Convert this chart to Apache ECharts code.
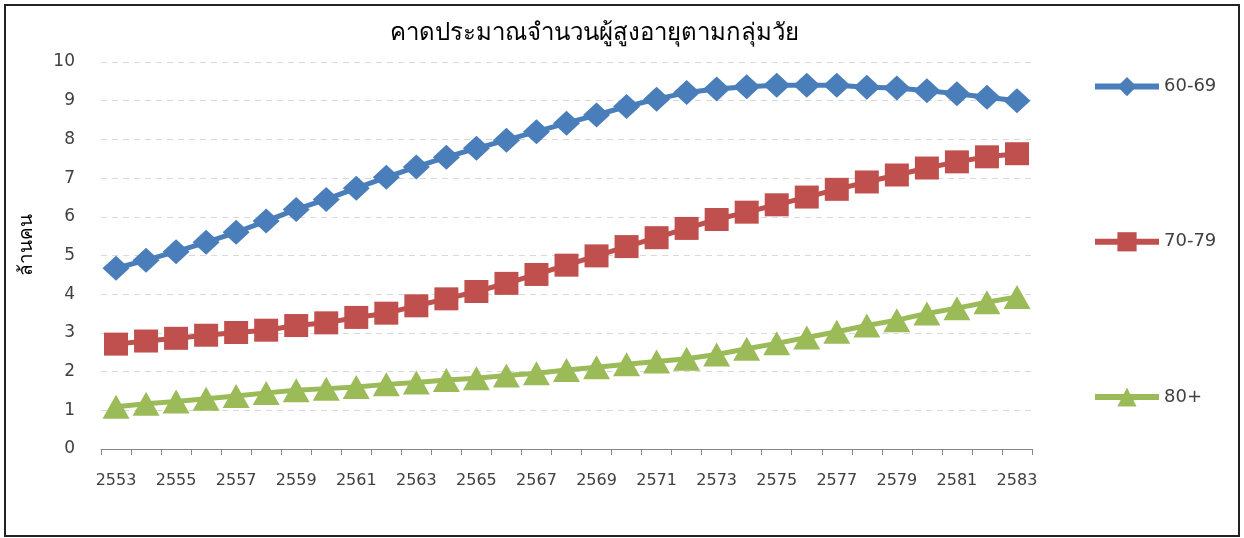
<!DOCTYPE html>
<html>
<head>
<meta charset="utf-8">
<script src="https://cdn.jsdelivr.net/npm/echarts@6/dist/echarts.min.js"></script>
<style>
  html, body { margin: 0; padding: 0; background: #fff; }
  #chart { width: 1244px; height: 538px; }
</style>
</head>
<body>
<div id="chart"></div>
<script>
// ปี พ.ศ. 2553 - 2583
const years = [];
for (let y = 2553; y <= 2583; y++) years.push(String(y));

const age6069 = [4.67, 4.88, 5.10, 5.34, 5.60, 5.89, 6.19, 6.45, 6.74, 7.02, 7.29,
  7.54, 7.77, 7.98, 8.20, 8.42, 8.63, 8.85, 9.04, 9.21, 9.30,
  9.36, 9.40, 9.40, 9.40, 9.35, 9.33, 9.26, 9.18, 9.09, 9.00];
const age7079 = [2.71, 2.79, 2.86, 2.94, 3.01, 3.07, 3.19, 3.26, 3.40, 3.51, 3.70,
  3.88, 4.07, 4.28, 4.51, 4.75, 4.99, 5.23, 5.46, 5.70, 5.93,
  6.12, 6.31, 6.51, 6.71, 6.90, 7.08, 7.26, 7.42, 7.55, 7.63];
const age80up = [1.09, 1.17, 1.23, 1.30, 1.37, 1.45, 1.52, 1.56, 1.60, 1.67, 1.72,
  1.78, 1.83, 1.90, 1.96, 2.04, 2.11, 2.19, 2.26, 2.33, 2.44,
  2.59, 2.73, 2.88, 3.03, 3.19, 3.33, 3.50, 3.64, 3.79, 3.93];

const seriesNames = ['60-69', '70-79', '80+'];
const yTicks = { min: 0, max: 10, interval: 1 };

const font = 'Tahoma, "DejaVu Sans", sans-serif';

const chart = echarts.init(document.getElementById('chart'));

function lineSeries(name, data, color, symbol, size) {
    return {
        name: name,
        type: 'line',
        data: data,
        symbol: symbol,
        symbolSize: size,
        showAllSymbol: true,
        lineStyle: { width: 5, color: color },
        itemStyle: { color: color },
        emphasis: { disabled: true },
        animation: false
    };
}

const option = {
    backgroundColor: '#fff',
    graphic: [{
        type: 'rect',
        z: -10,
        shape: { x: 5, y: 5, width: 1234, height: 531 },
        style: { fill: 'none', stroke: '#222', lineWidth: 2 }
    }],
    title: {
        text: 'คาดประมาณจำนวนผู้สูงอายุตามกลุ่มวัย',
        left: 589,
        textAlign: 'center',
        top: 17,
        textStyle: { fontFamily: font, fontSize: 24, fontWeight: 'normal', color: '#000' }
    },
    legend: {
        orient: 'vertical',
        left: 1087,
        top: 72,
        itemGap: 136,
        itemWidth: 64,
        itemHeight: 24,
        data: seriesNames,
        lineStyle: { width: 6 },
        textStyle: { fontFamily: font, fontSize: 18, color: '#404040' }
    },
    grid: { left: 101, right: 212, top: 62, bottom: 89 },
    xAxis: {
        type: 'category',
        data: years,
        boundaryGap: true,
        axisLine: { lineStyle: { color: '#868686', width: 1 } },
        axisTick: { show: true, interval: 0, alignWithLabel: false, length: 6, lineStyle: { color: '#868686' } },
        axisLabel: { interval: 1, margin: 24, fontFamily: font, fontSize: 16, color: '#404040' }
    },
    yAxis: {
        type: 'value',
        min: yTicks.min,
        max: yTicks.max,
        interval: yTicks.interval,
        name: 'ล้านคน',
        nameLocation: 'middle',
        nameGap: 64,
        nameRotate: 90,
        nameTextStyle: { fontFamily: font, fontSize: 19, color: '#000', padding: [0, 0, 0, 22] },
        axisLine: { show: false },
        axisTick: { show: false },
        axisLabel: { margin: 26, fontFamily: font, fontSize: 17, color: '#404040' },
        splitLine: { lineStyle: { color: '#d9d9d9', type: [6, 5], width: 1 } }
    },
    series: [
        lineSeries(seriesNames[0], age6069, '#4a7ebb', 'diamond', [27, 25]),
        lineSeries(seriesNames[1], age7079, '#c0504d', 'rect', [24, 23]),
        lineSeries(seriesNames[2], age80up, '#9bbb59', 'triangle', [27, 24])
    ]
};

chart.setOption(option);
window.addEventListener('resize', chart.resize);
</script>
</body>
</html>
